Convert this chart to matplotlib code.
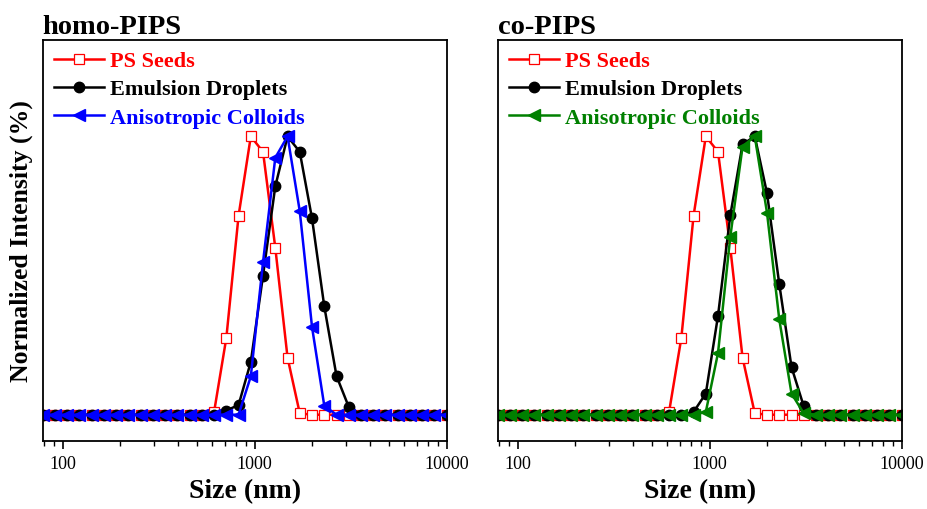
import matplotlib
matplotlib.use("Agg")
import matplotlib.pyplot as plt
from matplotlib.ticker import LogLocator, NullFormatter, FixedLocator, FixedFormatter

plt.rcParams['font.family'] = ['Liberation Serif', 'DejaVu Serif']

# DLS size bins (nm)
sizes = [78.82, 91.28, 105.7, 122.4, 141.8, 164.2, 190.1, 220.2, 255.0, 295.3,
         342.0, 396.1, 458.7, 531.2, 615.1, 712.4, 825.0, 955.4, 1106, 1281,
         1484, 1718, 1990, 2305, 2669, 3091, 3580, 4145, 4801, 5560,
         6439, 7456, 8635, 10000]

# homo-PIPS
homo_ps = [0, 0, 0, 0, 0, 0, 0, 0, 0, 0,
           0, 0, 0, 0, 0.01, 0.276, 0.715, 1.0, 0.944, 0.60,
           0.205, 0.005, 0, 0, 0, 0, 0, 0, 0, 0,
           0, 0, 0, 0]
homo_em = [0, 0, 0, 0, 0, 0, 0, 0, 0, 0,
           0, 0, 0, 0, 0, 0.015, 0.035, 0.19, 0.50, 0.82,
           1.0, 0.944, 0.705, 0.389, 0.139, 0.028, 0, 0, 0, 0,
           0, 0, 0, 0]
homo_an = [0, 0, 0, 0, 0, 0, 0, 0, 0, 0,
           0, 0, 0, 0, 0, 0, 0, 0.138, 0.548, 0.923,
           1.0, 0.731, 0.315, 0.032, 0, 0, 0, 0, 0, 0,
           0, 0, 0, 0]

# co-PIPS
co_ps = [0, 0, 0, 0, 0, 0, 0, 0, 0, 0,
         0, 0, 0, 0, 0.01, 0.276, 0.715, 1.0, 0.944, 0.60,
         0.205, 0.005, 0, 0, 0, 0, 0, 0, 0, 0,
         0, 0, 0, 0]
co_em = [0, 0, 0, 0, 0, 0, 0, 0, 0, 0,
         0, 0, 0, 0, 0, 0, 0.01, 0.076, 0.356, 0.716,
         0.971, 1.0, 0.795, 0.469, 0.171, 0.03, 0, 0, 0, 0,
         0, 0, 0, 0]
co_an = [0, 0, 0, 0, 0, 0, 0, 0, 0, 0,
         0, 0, 0, 0, 0, 0, 0, 0.01, 0.222, 0.639,
         0.963, 1.0, 0.725, 0.342, 0.076, 0.005, 0, 0, 0, 0,
         0, 0, 0, 0]

labels = ["PS Seeds", "Emulsion Droplets", "Anisotropic Colloids"]
titles = ["homo-PIPS", "co-PIPS"]
xticks = [100, 1000, 10000]
xticklabels = ["100", "1000", "10000"]

fig = plt.figure(figsize=(9.28, 5.10), dpi=100)
W, H = 928, 510
ax_l = fig.add_axes([42.7 / W, 1 - 442.3 / H, 404 / W, 401.6 / H])
ax_r = fig.add_axes([497.7 / W, 1 - 442.3 / H, 404 / W, 401.6 / H])

panels = [
    (ax_l, homo_ps, homo_em, homo_an, "#0000ff", titles[0]),
    (ax_r, co_ps, co_em, co_an, "#008000", titles[1]),
]

for ax, ps, em, an, c3, title in panels:
    ax.plot(sizes, ps, color="#ff0000", lw=1.8, marker="s", ms=7,
            mfc="white", mec="#ff0000", mew=0.9, label=labels[0])
    ax.plot(sizes, em, color="black", lw=1.8, marker="o", ms=7.5,
            mfc="black", mec="black", label=labels[1])
    ax.plot(sizes, an, color=c3, lw=1.8, marker="<", ms=8.5,
            mfc=c3, mec=c3, label=labels[2])
    ax.set_xscale("log")
    ax.set_xlim(78.82, 10000)
    ax.set_ylim(-0.0955, 1.347)
    ax.set_yticks([])
    ax.xaxis.set_major_locator(FixedLocator(xticks))
    ax.xaxis.set_major_formatter(FixedFormatter(xticklabels))
    ax.xaxis.set_minor_locator(LogLocator(base=10, subs=range(2, 10)))
    ax.xaxis.set_minor_formatter(NullFormatter())
    ax.tick_params(axis="x", which="major", direction="out", length=6, width=1.2,
                   labelsize=13, pad=4)
    ax.tick_params(axis="x", which="minor", direction="out", length=3.5, width=1.0)
    for sp in ax.spines.values():
        sp.set_linewidth(1.3)
    ax.set_xlabel("Size (nm)", fontsize=20, fontweight="bold", labelpad=4)
    ax.set_title(title, loc="left", fontsize=20.5, fontweight="bold", pad=5)
    ax.legend(loc="upper left", frameon=False,
              handlelength=2.25, handletextpad=0.3, labelspacing=0.34,
              borderaxespad=0.2, borderpad=0.3, labelcolor="linecolor",
              prop={"weight": "bold", "size": 16})

ax_l.set_ylabel("Normalized Intensity (%)", fontsize=18.5, fontweight="bold", labelpad=7)

fig.savefig("out.png", dpi=100)
